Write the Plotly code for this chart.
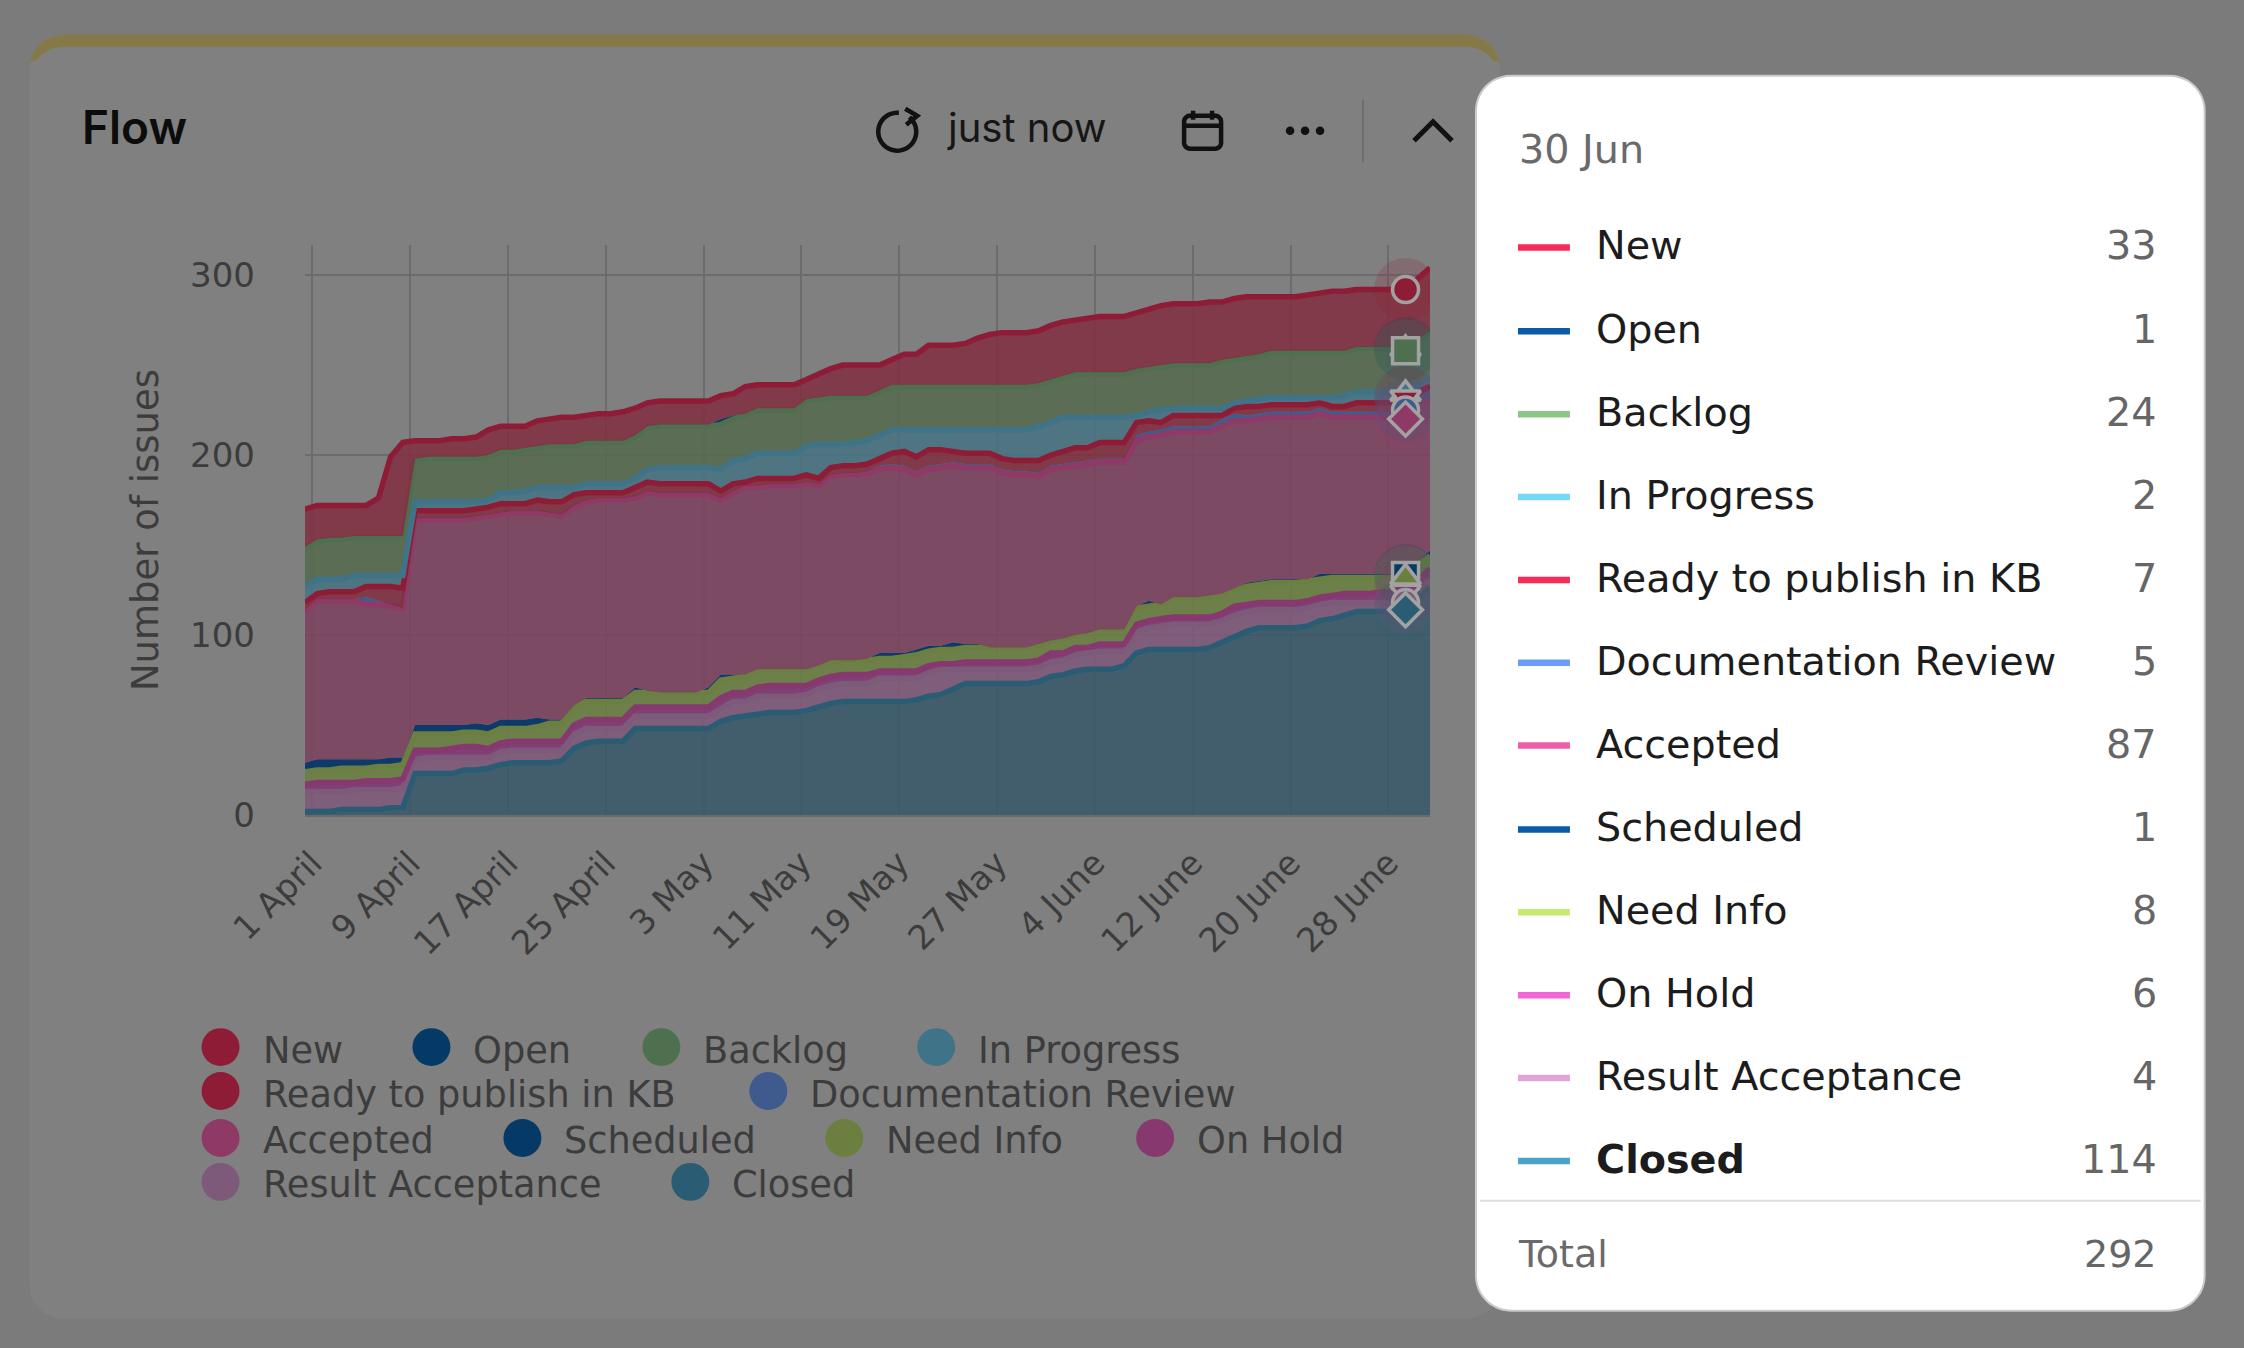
import math
import pandas as pd
import plotly.graph_objects as go

W, H = 2244, 1348
L, R, T, B = 304.5, 1430.0, 244.5, 815.5

# ---------- data ----------
dates = pd.date_range("2023-04-01", periods=93, freq="D")
tick_labels = ["1 April", "9 April", "17 April", "25 April", "3 May", "11 May",
               "19 May", "27 May", "4 June", "12 June", "20 June", "28 June"]
tick_days = ["2023-04-01", "2023-04-09", "2023-04-17", "2023-04-25", "2023-05-03", "2023-05-11",
             "2023-05-19", "2023-05-27", "2023-06-04", "2023-06-12", "2023-06-20", "2023-06-28"]
y_ticks = [0, 100, 200, 300]

# stack boundaries (height of the top edge of each band) per day
top_new = [170,172,172,172,172,172,176,199,207,208,208,208,209,209,210,214,216,216,216,219,220,221,221,222,223,223,224,226,229,230,230,230,230,230,233,234,238,239,239,239,239,242,245,248,250,250,250,250,253,256,256,261,261,261,262,265,267,268,268,268,269,272,274,275,276,277,277,277,279,281,283,284,284,284,285,285,287,288,288,288,288,288,289,290,291,291,292,292,292,292,292,298,304]
top_open = [149,153,154,154,155,155,155,155,155,198,199,199,199,199,199,200,203,203,204,205,206,206,206,208,208,208,208,211,216,217,217,217,217,217,220,222,223,226,226,226,226,231,232,233,233,233,233,236,239,239,239,239,239,239,239,239,239,239,239,239,240,242,244,246,246,246,246,246,248,249,250,251,251,251,251,253,254,255,256,258,258,258,258,258,258,258,260,260,260,260,259,264,269]
open_ = [1,1,1,1,1,1,1,1,1,1,1,1,1,1,1,1,1,1,1,1,1,1,1,1,1,1,1,1,1,1,1,1,1,1,3,2,1,1,1,1,1,1,1,1,1,1,1,1,1,1,1,1,1,1,1,1,1,1,1,1,1,1,1,1,1,1,1,1,1,1,1,1,1,1,1,1,1,1,1,1,1,1,1,1,1,1,1,1,1,1,1,1,1]
top_progress = [127,131,131,131,133,133,133,133,133,174,174,174,174,174,174,175,179,179,180,182,182,182,182,184,184,184,184,187,192,193,193,193,193,193,192,197,198,201,201,201,201,205,206,206,206,207,208,211,214,214,214,214,214,214,214,214,214,214,214,214,216,218,221,221,221,221,221,221,222,224,225,226,226,226,226,226,229,230,231,232,232,232,232,232,232,233,235,235,235,235,234,240,243]
top_ready = [118,123,124,124,124,127,127,127,126,169,169,169,169,169,170,171,173,173,173,175,174,174,178,179,179,179,179,182,185,184,184,184,184,184,180,184,185,187,187,187,187,189,187,193,194,194,195,198,201,202,199,203,203,202,201,201,201,198,197,197,197,200,202,204,204,207,207,207,218,219,218,222,222,222,222,222,226,227,227,228,228,228,228,229,227,227,229,229,229,229,232,235,238]
documentation = [1,1,1,1,1,4,2,1,0,1,1,1,1,1,1,1,1,1,1,1,1,1,1,1,1,1,1,1,1,1,1,1,1,1,1,1,1,1,1,1,1,1,1,1,1,1,1,2,2,2,2,2,2,2,2,2,2,2,2,2,2,2,2,2,2,2,2,2,3,3,3,3,3,3,3,4,4,3,3,3,3,3,3,3,3,3,3,3,3,3,5,5,5]
top_accepted = [113,119,119,119,119,117,117,116,115,164,164,164,164,164,165,166,167,168,168,168,167,166,171,174,175,175,175,176,179,178,178,178,178,178,175,179,182,182,183,183,183,184,183,188,189,189,190,192,193,192,189,192,193,194,193,193,193,190,189,189,188,192,193,194,195,196,196,196,208,210,211,213,213,213,213,216,219,219,220,221,221,221,221,223,221,221,221,221,221,220,220,226,231]
top_scheduled = [29,31,31,31,31,31,31,32,32,50,50,50,50,50,51,50,53,53,53,54,53,53,61,65,65,65,65,71,69,68,68,68,68,71,78,78,78,81,81,81,81,81,83,86,86,86,87,90,90,90,92,94,94,96,95,95,93,93,93,93,95,97,98,100,101,103,103,103,116,119,117,121,121,121,122,123,126,129,130,131,131,131,131,134,134,134,134,134,134,134,133,141,147]
top_need_info = [24,25,25,26,26,26,27,27,28,45,45,45,45,46,46,45,48,48,48,49,51,51,60,63,63,63,63,68,68,68,68,68,68,68,75,76,77,81,81,81,81,81,83,85,86,86,86,87,87,88,89,91,92,92,93,93,93,93,93,93,94,97,98,100,101,103,103,103,115,116,117,121,121,121,121,122,125,127,128,129,129,129,130,131,132,132,132,132,132,132,132,139,144]
top_on_hold = [17,18,18,18,18,19,19,19,20,36,36,36,37,38,38,37,40,41,41,41,41,41,50,53,53,53,53,60,60,60,60,60,60,60,65,68,68,71,72,72,72,72,75,77,78,78,78,80,80,80,80,83,84,84,85,85,85,85,85,85,86,90,90,93,93,95,95,95,106,108,109,110,110,110,110,112,116,117,118,118,118,118,119,121,122,123,123,123,124,124,124,130,137]
top_result = [13,13,13,13,14,14,14,14,15,31,32,32,32,32,32,32,35,36,36,36,36,36,45,48,48,48,48,55,55,55,55,55,55,55,59,63,63,66,66,66,66,67,70,72,73,73,73,76,76,76,76,79,81,81,81,81,81,81,81,81,82,85,86,89,90,91,91,91,102,104,105,106,106,106,106,108,111,113,114,114,114,114,115,117,118,118,118,118,118,118,118,124,131]
closed = [2,2,2,3,3,3,3,4,4,23,23,23,23,25,25,26,28,29,29,29,29,30,37,40,41,41,41,48,48,48,48,48,48,48,52,54,55,56,57,57,57,58,60,62,63,63,63,63,63,63,64,66,67,70,73,73,73,73,73,73,74,77,78,80,81,81,81,83,90,92,92,92,92,92,93,96,99,102,104,104,104,104,105,108,109,111,113,113,113,113,114,120,127]

names = ["New", "Open", "Backlog", "In Progress", "Ready to publish in KB", "Documentation Review",
         "Accepted", "Scheduled", "Need Info", "On Hold", "Result Acceptance", "Closed"]
tip_values = [33, 1, 24, 2, 7, 5, 87, 1, 8, 6, 4, 114]
tip_total = 292
hover_day = "2023-06-30"
hover_date_label = "30 Jun"

# ---------- derive the band sizes ----------
zipdiff = lambda a, b: [x - y for x, y in zip(a, b)]
top_backlog = zipdiff(top_open, open_)
series = {
    "Closed": closed,
    "Result Acceptance": zipdiff(top_result, closed),
    "On Hold": zipdiff(top_on_hold, top_result),
    "Need Info": zipdiff(top_need_info, top_on_hold),
    "Scheduled": zipdiff(top_scheduled, top_need_info),
    "Accepted": zipdiff(top_accepted, top_scheduled),
    "Documentation Review": documentation,
    "Ready to publish in KB": [r - a - d for r, a, d in zip(top_ready, top_accepted, documentation)],
    "In Progress": zipdiff(top_progress, top_ready),
    "Backlog": zipdiff(top_backlog, top_progress),
    "Open": open_,
    "New": zipdiff(top_new, top_open),
}

# ---------- styles ----------
line_col = dict(zip(names, ["#8f1c37", "#053a66", "#4f704f", "#3f7488", "#8f1c37", "#3e5a8f",
                            "#8f3a66", "#053a66", "#6b8040", "#86386f", "#7d5a7a", "#2a5d74"]))
fill_col = dict(zip(names, ["#7f3a48", "#05396a", "#5a6e55", "#4f7482", "#7f3a48", "#3e5a8f",
                            "#7c4a63", "#05396a", "#6c7f4a", "#7e4075", "#7d5e7b", "#425e6b"]))
tip_col = dict(zip(names, ["#f72b59", "#0b5aa5", "#8cc687", "#76d8f7", "#f72b59", "#6a9bf7",
                           "#ef5fa7", "#0b5aa5", "#c3ec6f", "#f266d6", "#e0a3da", "#4aa3c9"]))
symbols = dict(zip(names, ["circle", "triangle-up", "square", "triangle-up", "triangle-down", "circle",
                           "diamond", "square", "triangle-up", "triangle-down", "circle", "diamond"]))
# series whose thin band carries no outline of its own
no_outline = {"Open", "Scheduled", "Documentation Review"}
marker_order = ["New", "Open", "Backlog", "In Progress", "Ready to publish in KB", "Documentation Review",
                "Accepted", "Scheduled", "Need Info", "On Hold", "Result Acceptance", "Closed"]


def alpha_fill(hex_col, a=0.9, bg=128):
    c = [int(hex_col[i:i + 2], 16) for i in (1, 3, 5)]
    v = [max(0, min(255, round((x - bg * (1 - a)) / a))) for x in c]
    return f"rgba({v[0]},{v[1]},{v[2]},{a})"


def px(x):
    return (x - L) / (R - L)


def py(y):
    return (B - y) / (B - T)


def path(points, close=False):
    s = "M" + " L".join(f"{px(x):.5f},{py(y):.5f}" for x, y in points)
    return s + (" Z" if close else "")


def round_rect(x0, y0, x1, y1, r, top_only=False):
    pts = []
    def arc(cx, cy, a0, a1):
        for k in range(13):
            a = math.radians(a0 + (a1 - a0) * k / 12)
            pts.append((cx + r * math.cos(a), cy + r * math.sin(a)))
    arc(x0 + r, y0 + r, 180, 270)
    arc(x1 - r, y0 + r, 270, 360)
    if top_only:
        pts.extend([(x1, y1), (x0, y1)])
    else:
        arc(x1 - r, y1 - r, 0, 90)
        arc(x0 + r, y1 - r, 90, 180)
    return path(pts, True)


def arc_path(cx, cy, r, a0, a1):
    return path([(cx + r * math.cos(math.radians(a0 + (a1 - a0) * k / 40)),
                  cy + r * math.sin(math.radians(a0 + (a1 - a0) * k / 40))) for k in range(41)])


SANS = "DejaVu Sans"
DIM = "#3c3c3c"
shapes, ann = [], []


def text(x, y, s, size, color, anchor="left", family=SANS, weight=None):
    f = dict(size=size, color=color, family=family)
    if weight:
        f["weight"] = weight
    ann.append(dict(x=px(x), y=py(y), xref="paper", yref="paper", text=s, showarrow=False,
                    xanchor=anchor, yanchor="middle", font=f, borderpad=0, borderwidth=0))


def add_path(d, fill=None, line=None, w=0, layer="below"):
    shapes.append(dict(type="path", xref="paper", yref="paper", path=d, layer=layer,
                       fillcolor=fill or "rgba(0,0,0,0)",
                       line=dict(color=line or "rgba(0,0,0,0)", width=w)))


def circle(cx, cy, r, fill=None, line=None, w=0, layer="below"):
    shapes.append(dict(type="circle", xref="paper", yref="paper", layer=layer,
                       x0=px(cx - r), x1=px(cx + r), y0=py(cy + r), y1=py(cy - r),
                       fillcolor=fill or "rgba(0,0,0,0)",
                       line=dict(color=line or "rgba(0,0,0,0)", width=w)))


# card and its coloured top edge
add_path(round_rect(29, 34, 1500, 1320, 34), fill="#808080")
add_path(round_rect(29, 34, 1500, 60, 34, top_only=True), fill="#857a47")
add_path(round_rect(29, 46, 1500, 1320, 34), fill="#808080")

# header
text(81, 126, "Flow", 46, "#0c0c0c", family="Inter", weight=600)
text(947, 127, "just now", 40, "#161616", family="Inter")
add_path(arc_path(897, 131, 19, -50, 275), line="#111111", w=4.5)
add_path(path([(905, 108), (917, 115), (906, 124)]), line="#111111", w=4.5)
add_path(round_rect(1184, 115, 1221, 148, 6), line="#111111", w=4.5)
add_path(path([(1184, 125), (1221, 125)]), line="#111111", w=4.5)
add_path(path([(1193, 110), (1193, 119)]), line="#111111", w=4.5)
add_path(path([(1212, 110), (1212, 119)]), line="#111111", w=4.5)
for dx in (1290, 1305, 1320):
    circle(dx, 130, 4.3, fill="#111111")
add_path(path([(1363, 99), (1363, 162)]), line="#6e6e6e", w=2)
add_path(path([(1414, 140), (1433, 121), (1452, 140)]), line="#111111", w=5)

# legend
legend_items = [
    ("New", 220, 1048), ("Open", 431, 1048), ("Backlog", 661, 1048), ("In Progress", 936, 1048),
    ("Ready to publish in KB", 220, 1092), ("Documentation Review", 768, 1092),
    ("Accepted", 220, 1139), ("Scheduled", 522, 1139), ("Need Info", 844, 1139), ("On Hold", 1155, 1139),
    ("Result Acceptance", 220, 1183), ("Closed", 690, 1183),
]
for nm, cx, cy in legend_items:
    circle(cx, cy, 19, fill=line_col[nm])
    text(cx + 42, cy + 3, nm, 36.7, DIM)

# tooltip
add_path(round_rect(1475, 74, 2206, 1313, 36), fill="rgba(235,235,235,0.7)", layer="above")
add_path(round_rect(1477, 76, 2204, 1311, 34), fill="#ffffff", layer="above")
text(1519, 148, hover_date_label, 39.7, "#6a6a6a")
row_ys = [245, 329, 412, 495, 578, 661, 744, 828, 911, 994, 1077, 1160]
for nm, val, ry in zip(names, tip_values, row_ys):
    bold = nm == "Closed"
    add_path(path([(1518, ry + 2), (1570, ry + 2)]), line=tip_col[nm], w=6.5, layer="above")
    text(1596, ry, nm, 39.7, "#1c1c1c", weight=700 if bold else None)
    text(2157, ry, str(val), 39.7, "#666666", anchor="right")
add_path(path([(1480, 1202), (2201, 1202)]), line="#dedede", w=2, layer="above")
text(1518, 1255, "Total", 38, "#6a6a6a")
text(2157, 1255, str(tip_total), 38, "#666666", anchor="right")

# ---------- traces ----------
fig = go.Figure()
for nm in reversed(names):
    fig.add_trace(go.Scatter(
        x=dates, y=series[nm], name=nm, mode="lines", stackgroup="flow",
        line=dict(color=line_col[nm], width=0 if nm in no_outline else 5.5, shape="linear"),
        fillcolor=alpha_fill(fill_col[nm]), showlegend=False, hoverinfo="skip"))

# hover emphasis at 30 June: halo plus symbol
cum = {}
running = 0
for nm, v in zip(reversed(names), reversed(tip_values)):
    running += v
    cum[nm] = running
for nm in marker_order:
    fig.add_trace(go.Scatter(
        x=[hover_day], y=[cum[nm]], mode="markers", showlegend=False, hoverinfo="skip",
        marker=dict(symbol="circle", size=63, color=line_col[nm], opacity=0.2, line=dict(width=0))))
for nm in marker_order:
    fig.add_trace(go.Scatter(
        x=[hover_day], y=[cum[nm]], mode="markers", showlegend=False, hoverinfo="skip",
        marker=dict(symbol=symbols[nm], size=26, color=line_col[nm],
                    line=dict(color="#a2a2a2", width=3.5))))

tick_positions = [pd.Timestamp(d) + pd.Timedelta(hours=14.4) for d in tick_days]

fig.update_layout(
    width=W, height=H, autosize=False,
    margin=dict(l=L, r=W - R, t=T, b=H - B, pad=0),
    paper_bgcolor="#7b7b7b", plot_bgcolor="rgba(0,0,0,0)",
    showlegend=False, hovermode=False,
    shapes=shapes, annotations=ann,
    font=dict(family=SANS, color=DIM),
    xaxis=dict(type="date", range=["2023-04-01", "2023-07-02"],
               tickmode="array", tickvals=tick_positions, ticktext=tick_labels,
               tickangle=-45, tickfont=dict(size=33.5, color=DIM, family=SANS),
               ticklabelstandoff=13,
               showgrid=True, gridcolor="#6c6c6c", gridwidth=2,
               showline=True, linecolor="#6a6a6a", linewidth=2,
               zeroline=False, ticks=""),
    yaxis=dict(range=[0, (B - T) / 1.803], tickmode="array", tickvals=y_ticks,
               tickfont=dict(size=34, color=DIM, family=SANS),
               showgrid=True, gridcolor="#6c6c6c", gridwidth=2,
               showline=False, zeroline=False, ticks="", ticklabelstandoff=49,
               title=dict(text="Number of issues", standoff=20,
                          font=dict(size=37, color=DIM, family=SANS))),
)

fig.write_html("out.html", config=dict(displayModeBar=False),
               post_script="document.body.style.margin='0';document.body.style.overflow='hidden';")
